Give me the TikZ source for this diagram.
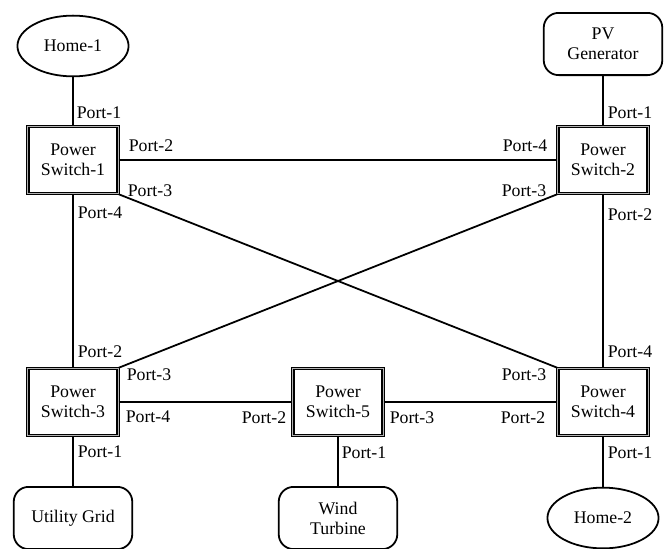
\documentclass[tikz,border=0pt]{standalone}
\usepackage{fontspec}
\setmainfont{Liberation Serif}
\usetikzlibrary{
  shapes.geometric,
  positioning,
  calc
}
\tikzset{
  switch/.style = {draw=black, line width=0.75pt, double=gray!60, double distance=0.9pt,
                   minimum width=61pt, minimum height=45.5pt, align=center, inner sep=0pt},
  home/.style   = {ellipse, draw, line width=1.2pt, minimum width=75pt, minimum height=41pt},
  source/.style = {draw, rounded corners=10pt, line width=1.2pt, minimum width=80pt,
                   minimum height=42pt, align=center},
  port/.style   = {inner sep=0pt},
  link/.style   = {line width=1.2pt}
}

\begin{document}
\begin{tikzpicture}[x=0.675pt, y=-0.675pt, font=\fontsize{12}{13.5}\selectfont]
  \useasboundingbox (0,0) rectangle (665,548);

  % Power switches
  \node [switch] (ps1) at ( 73, 160) {Power\\Switch-1};
  \node [switch] (ps2) at (603, 160) {Power\\Switch-2};
  \node [switch] (ps3) at ( 73, 402) {Power\\Switch-3};
  \node [switch] (ps4) at (603, 402) {Power\\Switch-4};
  \node [switch] (ps5) at (338, 402) {Power\\Switch-5};

  % Homes and sources
  \node [home]   (home1)   at ( 73,  46) {Home-1};
  \node [source] (pv)      at (603,  44) {PV\\Generator};
  \node [source] (utility) at ( 73, 518) {Utility Grid};
  \node [source] (wind)    at (338, 518) {Wind\\Turbine};
  \node [home]   (home2)   at (603, 518) {Home-2};

  % Links
  \draw [link] (home1)   -- (ps1);
  \draw [link] (pv)      -- (ps2);
  \draw [link] (ps1)     -- (ps2);
  \draw [link] (ps1)     -- (ps3);
  \draw [link] (ps2)     -- (ps4);
  \draw [link] (ps1.south east) -- (ps4.north west);
  \draw [link] (ps2.south west) -- (ps3.north east);
  \draw [link] (ps3)     -- (ps5);
  \draw [link] (ps5)     -- (ps4);
  \draw [link] (ps3)     -- (utility);
  \draw [link] (ps5)     -- (wind);
  \draw [link] (ps4)     -- (home2);

  % Port labels
  \node [port] (ps1p1) at ( 99, 113) {Port-1};
  \node [port] (ps1p2) at (151, 146) {Port-2};
  \node [port] (ps1p3) at (150, 191) {Port-3};
  \node [port] (ps1p4) at (100, 213) {Port-4};

  \node [port] (ps2p1) at (630, 113) {Port-1};
  \node [port] (ps2p4) at (525, 146) {Port-4};
  \node [port] (ps2p3) at (524, 191) {Port-3};
  \node [port] (ps2p2) at (630, 215) {Port-2};

  \node [port] (ps3p2) at (100, 352) {Port-2};
  \node [port] (ps3p3) at (149, 375) {Port-3};
  \node [port] (ps3p4) at (148, 417) {Port-4};
  \node [port] (ps3p1) at (100, 452) {Port-1};

  \node [port] (ps5p2) at (264, 418) {Port-2};
  \node [port] (ps5p3) at (412, 418) {Port-3};
  \node [port] (ps5p1) at (364, 453) {Port-1};

  \node [port] (ps4p4) at (630, 352) {Port-4};
  \node [port] (ps4p3) at (524, 375) {Port-3};
  \node [port] (ps4p2) at (523, 418) {Port-2};
  \node [port] (ps4p1) at (630, 453) {Port-1};
\end{tikzpicture}
\end{document}
